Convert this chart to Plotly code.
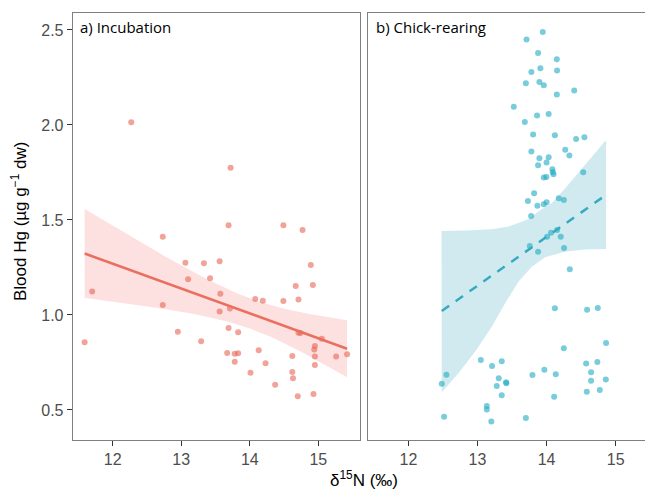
import numpy as np
import plotly.graph_objects as go
from plotly.subplots import make_subplots

# ---- Data: a) Incubation ----
inc_x = [12.27, 13.72, 11.59, 11.70, 12.73, 12.73, 12.95, 13.06, 13.10, 13.29,
         13.33, 13.42, 13.56, 13.57, 13.56, 13.69, 13.71, 13.69, 13.83, 13.67,
         13.78, 13.83, 13.78, 14.01, 14.08, 14.13, 14.19, 14.23, 14.37, 14.49,
         14.49, 14.62, 14.62, 14.63, 14.67, 14.71, 14.70, 14.71, 14.74, 14.77,
         14.89, 14.92, 14.95, 14.94, 14.95, 14.95, 14.93, 15.05, 15.26, 15.42]
inc_y = [2.014, 1.775, 0.856, 1.123, 1.412, 1.053, 0.911, 1.275, 1.188, 0.861,
         1.272, 1.193, 1.283, 1.112, 1.018, 1.472, 1.034, 0.932, 0.909, 0.800,
         0.796, 0.798, 0.754, 0.696, 1.084, 0.814, 1.075, 0.746, 0.633, 1.472,
         1.074, 0.784, 0.700, 0.667, 1.153, 1.081, 0.572, 0.907, 0.905, 1.447,
         1.263, 1.158, 0.837, 0.818, 0.782, 0.737, 0.584, 0.875, 0.781, 0.793]

# ---- Data: b) Chick-rearing ----
chk_x = [13.945, 13.71, 13.877, 14.148, 13.91, 13.78, 14.152, 13.70, 13.896, 13.96,
         14.40, 14.148, 13.525, 13.862, 14.03, 13.685, 13.805, 14.12, 14.427, 14.547,
         13.78, 14.27, 14.33, 13.896, 14.03, 13.877, 14.00, 14.084, 14.09, 14.10,
         13.96, 13.997, 14.53, 13.82, 13.73, 13.867, 13.96, 14.00, 14.177, 14.25,
         13.776, 13.757, 13.877, 14.008, 14.065, 14.152, 14.205, 14.253, 14.336, 14.12,
         14.586, 14.741, 14.861, 14.249, 13.048, 13.211, 13.351, 13.308, 13.279, 13.414,
         13.418, 13.351, 13.795, 13.968, 14.133, 14.109, 14.572, 14.735, 14.644, 14.644,
         14.582, 14.77, 14.857, 12.483, 12.55, 12.517, 13.135, 13.135, 13.20, 13.70]
chk_y = [2.489, 2.449, 2.379, 2.346, 2.298, 2.279, 2.286, 2.219, 2.226, 2.209,
         2.181, 2.160, 2.096, 2.049, 2.058, 2.016, 1.949, 1.946, 1.926, 1.935,
         1.860, 1.870, 1.839, 1.825, 1.830, 1.788, 1.802, 1.767, 1.751, 1.740,
         1.723, 1.726, 1.751, 1.640, 1.600, 1.575, 1.583, 1.593, 1.614, 1.605,
         1.521, 1.363, 1.332, 1.411, 1.433, 1.447, 1.411, 1.353, 1.240, 1.035,
         1.028, 1.037, 0.853, 0.825, 0.763, 0.732, 0.756, 0.667, 0.626, 0.646,
         0.641, 0.577, 0.684, 0.712, 0.688, 0.570, 0.744, 0.753, 0.698, 0.654,
         0.596, 0.605, 0.661, 0.638, 0.686, 0.465, 0.521, 0.502, 0.440, 0.458]

# model fit for chick-rearing
chk_fit_x = [12.483, 14.861]
chk_fit_y = [1.021, 1.632]
chk_ci_hi_x = [12.48, 12.82, 13.21, 13.45, 13.64, 13.74, 13.88, 14.08, 14.27, 14.51, 14.70, 14.861]
chk_ci_hi_y = [1.442, 1.444, 1.451, 1.465, 1.491, 1.505, 1.544, 1.590, 1.667, 1.772, 1.851, 1.921]
chk_ci_lo_x = [12.483, 12.724, 12.965, 13.207, 13.40, 13.592, 13.786, 13.978, 14.268, 14.557, 14.861]
chk_ci_lo_y = [0.593, 0.693, 0.807, 0.938, 1.061, 1.175, 1.254, 1.304, 1.333, 1.344, 1.347]

x_ticks = [12, 13, 14, 15]
y_ticks = [0.5, 1.0, 1.5, 2.0, 2.5]
y_tick_text = ["0.5", "1.0", "1.5", "2.0", "2.5"]

# ---- linear fit + 95% CI for incubation ----
xi = np.array(inc_x); yi = np.array(inc_y)
n = len(xi)
b1, b0 = np.polyfit(xi, yi, 1)
res = yi - (b0 + b1 * xi)
s = np.sqrt(np.sum(res ** 2) / (n - 2))
gx = np.linspace(xi.min(), xi.max(), 80)
gy = b0 + b1 * gx
se = s * np.sqrt(1 / n + (gx - xi.mean()) ** 2 / np.sum((xi - xi.mean()) ** 2))
tval = 2.0106
lo = gy - tval * se
hi = gy + tval * se

fig = make_subplots(rows=1, cols=2, shared_yaxes=False)

fig.add_trace(go.Scatter(x=np.concatenate([gx, gx[::-1]]), y=np.concatenate([hi, lo[::-1]]),
                         fill="toself", fillcolor="#FDE0E0", line=dict(width=0),
                         mode="lines", hoverinfo="skip", showlegend=False), row=1, col=1)
fig.add_trace(go.Scatter(x=inc_x, y=inc_y, mode="markers",
                         marker=dict(size=6, color="rgba(232,100,85,0.6)", line=dict(width=0)),
                         showlegend=False), row=1, col=1)
fig.add_trace(go.Scatter(x=gx, y=gy, mode="lines", line=dict(color="#EA6F5E", width=2.5),
                         showlegend=False), row=1, col=1)

band_x = chk_ci_hi_x + chk_ci_lo_x[::-1]
band_y = chk_ci_hi_y + chk_ci_lo_y[::-1]
fig.add_trace(go.Scatter(x=band_x, y=band_y, fill="toself", fillcolor="#D1EAF0",
                         line=dict(width=0),
                         mode="lines", hoverinfo="skip", showlegend=False), row=1, col=2)
fig.add_trace(go.Scatter(x=chk_x, y=chk_y, mode="markers",
                         marker=dict(size=6, color="rgba(30,170,195,0.6)", line=dict(width=0)),
                         showlegend=False), row=1, col=2)
fig.add_trace(go.Scatter(x=chk_fit_x, y=chk_fit_y, mode="lines",
                         line=dict(color="#36ABC0", width=2.5, dash="9px,8px"),
                         showlegend=False), row=1, col=2)

# page has an 8px body margin: lay out in page pixels minus that offset
OFF = 8
W, H = 653 - OFF, 491 - OFF
def px(x):
    return (x - OFF) / W
def py(y):
    return (H - (y - OFF)) / H

tickfont = dict(family="Liberation Sans, Arial", size=16, color="#4D4D4D")
xcommon = dict(tickvals=x_ticks, ticks="outside", ticklen=5, tickcolor="#333333",
               showgrid=False, zeroline=False, showline=True, mirror=True,
               linecolor="#7F7F7F", linewidth=1, tickfont=tickfont)
fig.update_layout(
    width=W, height=H, margin=dict(l=0, r=0, t=0, b=0, autoexpand=False),
    plot_bgcolor="white", paper_bgcolor="white",
    xaxis=dict(domain=[px(72.7), px(360)], range=[11.416, 15.608], **xcommon),
    xaxis2=dict(domain=[px(368.3), 1.0], range=[11.42, 15.54], **xcommon),
    yaxis=dict(domain=[py(440), py(13)], range=[0.342, 2.589],
               tickvals=y_ticks, ticktext=y_tick_text, ticks="outside", ticklen=5,
               tickcolor="#333333", showgrid=False, zeroline=False, showline=True,
               mirror=True, linecolor="#7F7F7F", linewidth=1, tickfont=tickfont),
    yaxis2=dict(domain=[py(440), py(13)], range=[0.342, 2.589],
                showticklabels=False, ticks="", showgrid=False, zeroline=False,
                showline=True, mirror=False, linecolor="#7F7F7F", linewidth=1),
)

fig.add_annotation(text="a) Incubation", xref="x domain", yref="y domain", x=0.02, y=0.967,
                   xanchor="left", yanchor="middle", showarrow=False,
                   font=dict(family="Open Sans", size=15, color="black"))
fig.add_annotation(text="b) Chick-rearing", xref="x2 domain", yref="y2 domain", x=0.02, y=0.967,
                   xanchor="left", yanchor="middle", showarrow=False,
                   font=dict(family="Open Sans", size=15, color="black"))
fig.add_annotation(text="δ<sup>15</sup>N (‰)", xref="paper", yref="paper",
                   x=px(363.5), y=py(479), xanchor="center", yanchor="middle",
                   showarrow=False, font=dict(family="Liberation Sans, Arial", size=17, color="black"))
fig.add_annotation(text="Blood Hg (µg g<sup>−1</sup> dw)", xref="paper", yref="paper",
                   x=px(19), y=py(222), xanchor="center", yanchor="middle", textangle=-90,
                   showarrow=False, font=dict(family="Liberation Sans, Arial", size=17, color="black"))

fig.write_html("out.html")
